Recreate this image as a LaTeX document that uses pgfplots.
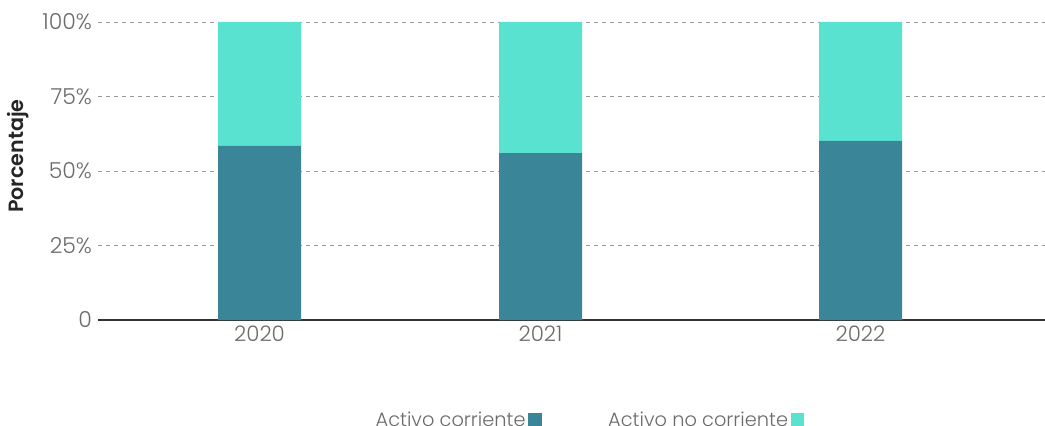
\documentclass[border=0pt]{standalone}
\usepackage{fontspec}
\setmainfont{Poppins Light}[BoldFont=Poppins SemiBold]
\usepackage{pgfplots}
\pgfplotsset{compat=1.18}
\definecolor{cdark}{HTML}{3A8597}
\definecolor{clight}{HTML}{5AE2D1}
\definecolor{ctick}{HTML}{6B6B6B}
\definecolor{cgrid}{HTML}{999999}
\begin{document}
\begin{tikzpicture}
\useasboundingbox (-73.5pt,-78.75pt) rectangle (710.25pt,240pt);
\clip (-73.5pt,-78.75pt) rectangle (710.25pt,240pt);
\begin{axis}[
  at={(0pt,0pt)}, anchor=south west,
  scale only axis, width=710.25pt, height=223.5pt,
  xmin=98, xmax=1045, ymin=0, ymax=100,
  ybar stacked, bar width=83,
  xtick={259.5,540.5,860.5}, xticklabels={2020,2021,2022},
  ytick={0,25,50,75,100}, yticklabels={0,25\%,50\%,75\%,100\%},
  /pgf/number format/assume math mode=true,
  tick style={draw=none},
  axis x line*=bottom, axis y line*=left,
  x axis line style={draw=black!80, line width=1.3pt, -},
  y axis line style={draw=none},
  ymajorgrids, grid style={cgrid, dashed, line width=0.6pt},
  ticklabel style={font=\fontsize{16}{18}\selectfont, text=ctick},
  xticklabel style={yshift=-1pt},
  yticklabel style={xshift=-1pt, font=\fontsize{16.5}{18}\selectfont},
  ylabel={\textbf{Porcentaje}}, ylabel style={font=\fontsize{15.5}{18}\selectfont, text=black!85, at={(axis description cs:-0.0845,0.55)}, anchor=center},
  legend style={draw=none, at={(0.518,-75pt)}, anchor=center, legend columns=2, font=\fontsize{14.5}{17}\selectfont, text=ctick, /tikz/every even column/.append style={column sep=48pt}},
  legend cell align=left,
  legend plot pos=right,
  legend image code/.code={\fill[#1] (4pt,-5pt) rectangle (14pt,5pt);},
]
\addplot[fill=cdark, draw=none] coordinates {(259.5,58.4) (540.5,56.0) (860.5,60.1)};
\addplot[fill=clight, draw=none] coordinates {(259.5,41.6) (540.5,44.0) (860.5,39.9)};
\legend{Activo corriente, Activo no corriente}
\end{axis}
\end{tikzpicture}
\end{document}
